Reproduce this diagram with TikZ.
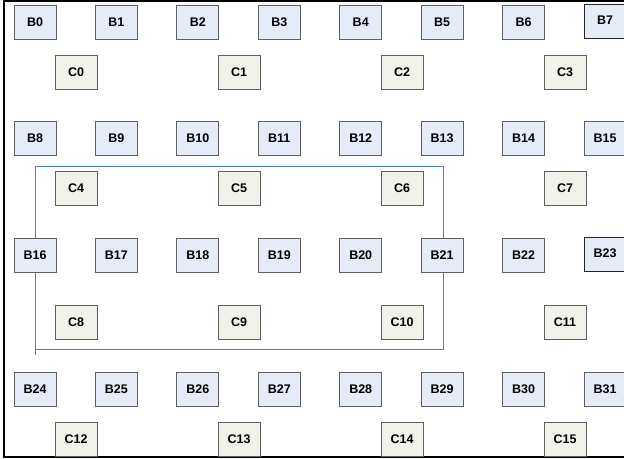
\documentclass[tikz,border=0pt]{standalone}
\usepackage{fontspec}
\setmainfont{Liberation Sans}
\definecolor{bfill}{RGB}{230,236,247}
\definecolor{cfill}{RGB}{242,242,234}
\definecolor{bord}{RGB}{95,95,95}
\definecolor{regblue}{RGB}{79,129,189}
\begin{document}
\begin{tikzpicture}[x=1pt,y=-1pt,
  box/.style={draw=bord, line width=0.9pt, minimum width=42pt, minimum height=34pt,
    inner sep=0pt, font=\fontsize{12.5}{12.5}\selectfont\bfseries},
  bbox/.style={box, fill=bfill},
  cbox/.style={box, fill=cfill},
  darkbox/.style={draw=black!85},
  frameline/.style={line width=2pt, black},
  region/.style={draw=regblue, line width=1pt}]
\useasboundingbox (0,0) rectangle (624,458);
% outer frame
\coordinate (ftl) at (4,1);
\coordinate (ftr) at (624,1);
\coordinate (fbl) at (4,457);
\coordinate (fbr) at (624,456.5);
\draw[frameline] (ftr) -- (3,1) (4,0) -- (4,458) (3,456.5) -- (fbr);
% region rectangle
\coordinate (r1) at (35,166);
\coordinate (r2) at (443,349);
\coordinate (rt) at (35,355);
\draw[region] (r1) rectangle (r2);
\draw[region] (r1|-r2) -- (rt);
% B nodes
\foreach \y [count=\r from 0] in {22,138.5,255.5,389} {
  \foreach \i in {0,...,7} {
    \pgfmathtruncatemacro\n{8*\r+\i}
    \ifnum\n=7
      \node[bbox,darkbox] (B\n) at ({35+81.43*\i},{\y-1}) {\raisebox{2pt}{B\n}};
    \else\ifnum\n=23
      \node[bbox,darkbox] (B\n) at ({35+81.43*\i},{\y-1}) {\raisebox{2pt}{B\n}};
    \else
      \node[bbox] (B\n) at ({35+81.43*\i},\y) {B\n};
    \fi\fi
  }
}
% C nodes
\foreach \y [count=\r from 0] in {72,188.5,322,439} {
  \foreach \j in {0,...,3} {
    \pgfmathtruncatemacro\n{4*\r+\j}
    \node[cbox] (C\n) at ({76+163*\j},\y) {C\n};
  }
}
\end{tikzpicture}
\end{document}
